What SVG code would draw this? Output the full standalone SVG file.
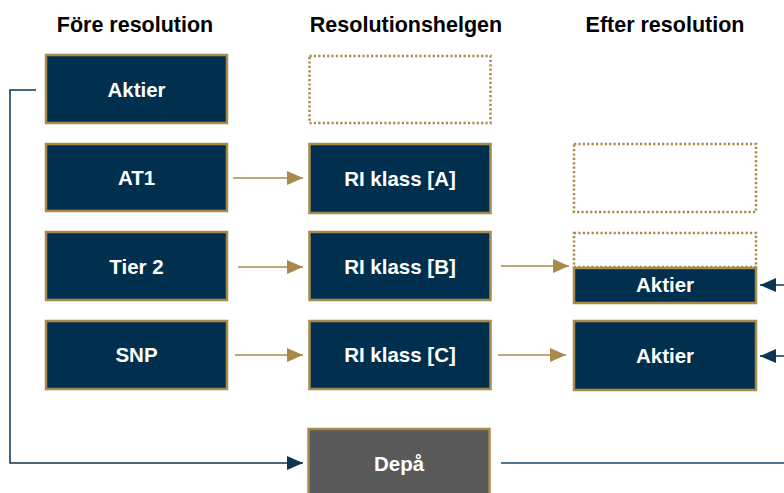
<svg xmlns="http://www.w3.org/2000/svg" width="784" height="493" viewBox="0 0 784 493">
<defs>
<style>
.hdr{font-family:"Liberation Sans",Arial,sans-serif;font-weight:bold;font-size:21.5px;fill:#000;text-anchor:middle}
.lbl{font-family:"Liberation Sans",Arial,sans-serif;font-weight:bold;font-size:20.5px;fill:#fff;text-anchor:middle}
.box{fill:#01304f;stroke:#a88b4c;stroke-width:2.5}
.grey{fill:#595959;stroke:#a88b4c;stroke-width:2.5}
.dot{fill:none;stroke:#a88b4c;stroke-width:2.5;stroke-dasharray:2.2 2.2}
.ga{stroke:#a88b4c;stroke-width:1.5;fill:none}
.na{stroke:#0c3556;stroke-width:1.5;fill:none}
.la{stroke:#4f7390;stroke-width:2;fill:none}
</style>
<marker id="gh" markerWidth="16" markerHeight="14" refX="16" refY="7" orient="auto" markerUnits="userSpaceOnUse"><path d="M0,0 L16,7 L0,14 Z" fill="#a88b4c"/></marker>
<marker id="nh" markerWidth="16" markerHeight="14" refX="16" refY="7" orient="auto" markerUnits="userSpaceOnUse"><path d="M0,0 L16,7 L0,14 Z" fill="#0c3556"/></marker>
</defs>
<rect width="784" height="493" fill="#fff"/>
<g id="headers">
<text class="hdr" x="135" y="32">Före resolution</text>
<text class="hdr" x="406" y="32">Resolutionshelgen</text>
<text class="hdr" x="665" y="32">Efter resolution</text>
</g>
<g id="connectors">
<line class="ga" x1="233" y1="178" x2="303" y2="178" marker-end="url(#gh)"/>
<line class="ga" x1="238" y1="267" x2="303" y2="267" marker-end="url(#gh)"/>
<line class="ga" x1="235" y1="355" x2="303" y2="355" marker-end="url(#gh)"/>
<line class="ga" x1="501" y1="266" x2="569" y2="266" marker-end="url(#gh)"/>
<line class="ga" x1="498" y1="355" x2="566" y2="355" marker-end="url(#gh)"/>
<line class="na" x1="784" y1="285" x2="760" y2="285" marker-end="url(#nh)"/>
<line class="na" x1="784" y1="356" x2="760" y2="356" marker-end="url(#nh)"/>
<path class="na" d="M36,90 H10 V463 H303" marker-end="url(#nh)"/>
<line class="la" x1="501" y1="463" x2="784" y2="463"/>
</g>
<g id="n-aktier-fore"><rect class="box" x="46" y="55" width="181" height="68"/><text class="lbl" x="136.5" y="97">Aktier</text></g>
<g id="n-at1"><rect class="box" x="46" y="144" width="181" height="67"/><text class="lbl" x="136.5" y="185">AT1</text></g>
<g id="n-tier2"><rect class="box" x="46" y="232" width="181" height="68"/><text class="lbl" x="136.5" y="274">Tier 2</text></g>
<g id="n-snp"><rect class="box" x="46" y="321" width="181" height="68"/><text class="lbl" x="136.5" y="362">SNP</text></g>
<g id="n-empty-mid"><rect class="dot" x="309.5" y="56" width="181" height="67"/></g>
<g id="n-ri-a"><rect class="box" x="309.5" y="144" width="181" height="69"/><text class="lbl" x="400" y="186">RI klass [A]</text></g>
<g id="n-ri-b"><rect class="box" x="309.5" y="232" width="181" height="68"/><text class="lbl" x="400" y="274">RI klass [B]</text></g>
<g id="n-ri-c"><rect class="box" x="309.5" y="321" width="181" height="68"/><text class="lbl" x="400" y="362">RI klass [C]</text></g>
<g id="n-depa"><rect class="grey" x="308.5" y="429" width="181" height="75"/><text class="lbl" x="399" y="471">Depå</text></g>
<g id="n-empty-right1"><rect class="dot" x="574" y="144" width="182" height="68"/></g>
<g id="n-empty-right2"><rect class="dot" x="574" y="233" width="182" height="34"/></g>
<g id="n-aktier-b"><rect class="box" x="574" y="268" width="182" height="35"/><text class="lbl" x="665" y="292">Aktier</text></g>
<g id="n-aktier-c"><rect class="box" x="574" y="321" width="182" height="69"/><text class="lbl" x="665" y="363">Aktier</text></g>
</svg>
